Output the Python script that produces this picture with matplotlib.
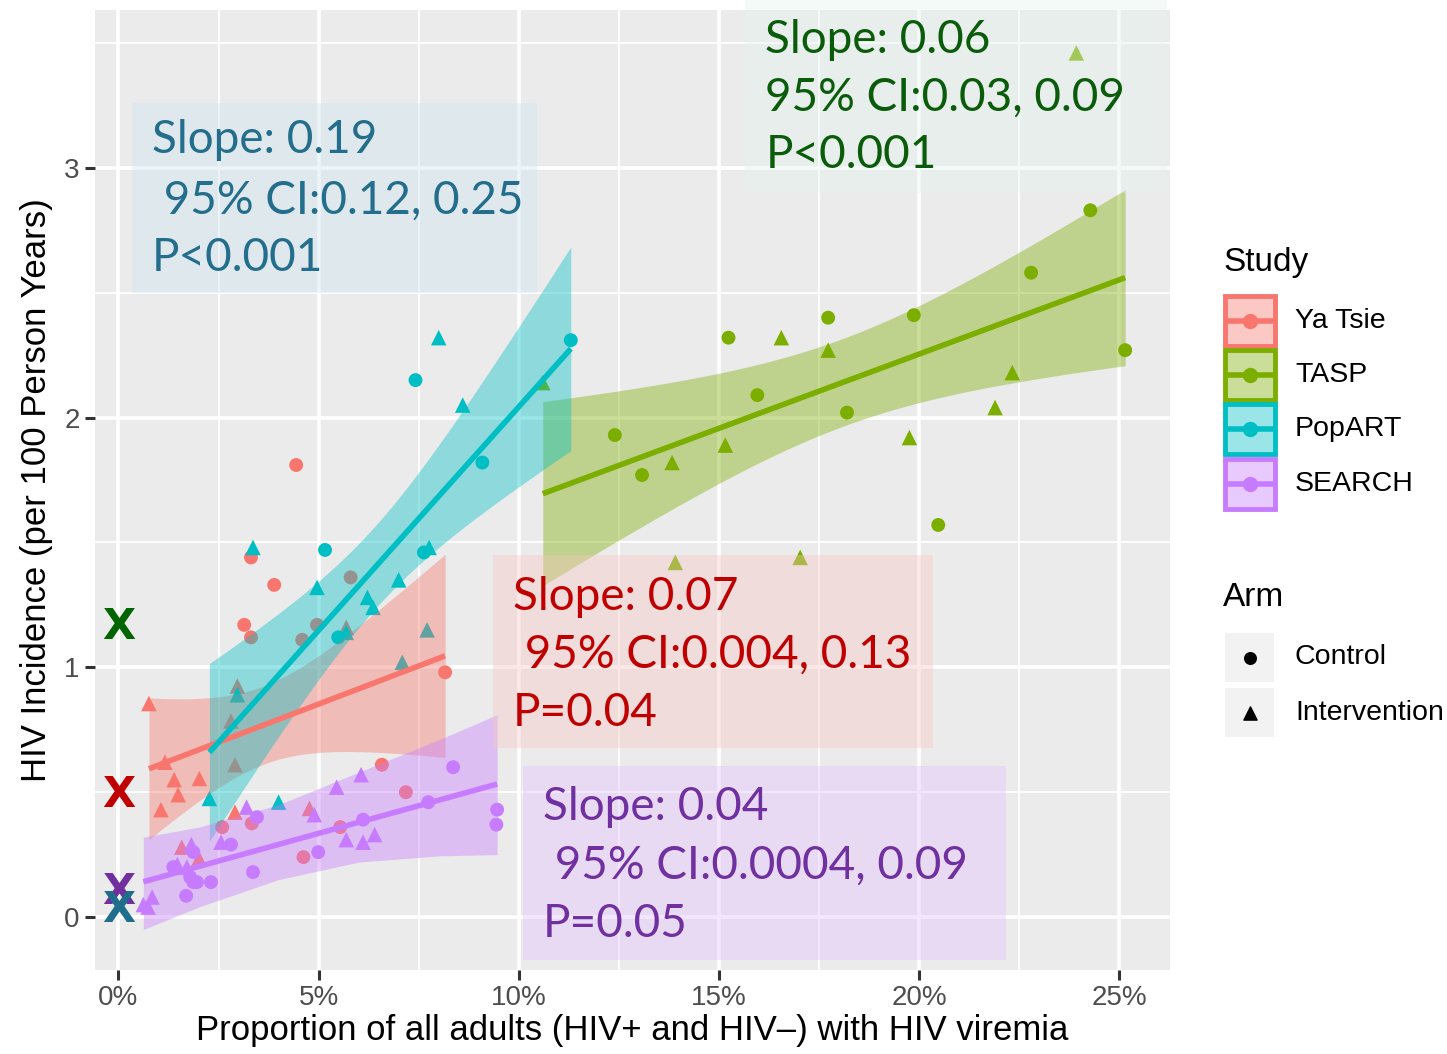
import numpy as np
import matplotlib.pyplot as plt
from matplotlib.patches import Rectangle

# ---- data (x = % of adults with viremia, y = incidence) ----
studies = ["Ya Tsie", "TASP", "PopART", "SEARCH"]
colors = ["#F8766D", "#7CAE00", "#00BFC4", "#C77CFF"]

yatsie_ctrl_x = [4.44, 3.31, 3.89, 3.14, 3.31, 5.80, 4.96, 4.59, 8.16, 6.58, 7.18, 5.54, 4.62, 2.59, 3.33]
yatsie_ctrl_y = [1.81, 1.44, 1.33, 1.17, 1.12, 1.36, 1.17, 1.11, 0.98, 0.61, 0.50, 0.36, 0.24, 0.36, 0.375]
yatsie_int_x = [0.76, 5.69, 2.97, 1.16, 1.39, 2.02, 1.49, 1.06, 2.91, 2.91, 1.58, 2.01, 4.77, 2.81]
yatsie_int_y = [0.855, 1.16, 0.925, 0.62, 0.55, 0.555, 0.49, 0.43, 0.61, 0.42, 0.28, 0.235, 0.435, 0.785]

tasp_ctrl_x = [15.24, 17.73, 19.87, 15.96, 18.20, 12.40, 13.08, 20.48, 25.15, 24.28, 22.80]
tasp_ctrl_y = [2.32, 2.40, 2.41, 2.09, 2.02, 1.93, 1.77, 1.57, 2.27, 2.83, 2.58]
tasp_int_x = [16.56, 17.73, 22.33, 21.90, 19.76, 15.16, 13.83, 13.91, 17.03, 10.60, 23.93]
tasp_int_y = [2.32, 2.27, 2.18, 2.04, 1.92, 1.89, 1.82, 1.42, 1.44, 2.14, 3.46]

popart_ctrl_x = [5.16, 9.09, 7.63, 5.49, 7.42, 11.30]
popart_ctrl_y = [1.47, 1.82, 1.46, 1.12, 2.15, 2.31]
popart_int_x = [3.36, 4.96, 7.76, 7.00, 6.22, 6.36, 5.69, 8.00, 8.60, 2.27, 4.00, 7.71, 7.09, 2.97]
popart_int_y = [1.48, 1.32, 1.48, 1.35, 1.28, 1.24, 1.14, 2.32, 2.05, 0.475, 0.46, 1.15, 1.02, 0.89]

search_ctrl_x = [8.36, 9.46, 9.44, 7.74, 6.11, 4.99, 3.36, 3.46, 2.81, 2.31, 1.69, 1.87, 1.79, 1.37, 1.87, 1.96]
search_ctrl_y = [0.60, 0.43, 0.37, 0.46, 0.39, 0.26, 0.18, 0.40, 0.29, 0.14, 0.085, 0.14, 0.16, 0.20, 0.26, 0.14]
search_int_x = [6.06, 5.45, 4.89, 3.20, 5.69, 6.11, 6.40, 2.56, 1.82, 1.47, 1.71, 0.84, 0.62, 0.74]
search_int_y = [0.57, 0.52, 0.41, 0.44, 0.31, 0.30, 0.33, 0.30, 0.29, 0.21, 0.20, 0.08, 0.05, 0.04]

# SEARCH confidence band as drawn in the figure (wider than a plain OLS band)
search_band_x = [0.62, 2.0, 4.0, 6.0, 8.0, 9.46]
search_band_lo = [-0.05, 0.04, 0.15, 0.22, 0.245, 0.25]
search_band_hi = [0.32, 0.36, 0.45, 0.58, 0.71, 0.81]

ctrl = [(yatsie_ctrl_x, yatsie_ctrl_y), (tasp_ctrl_x, tasp_ctrl_y),
        (popart_ctrl_x, popart_ctrl_y), (search_ctrl_x, search_ctrl_y)]
interv = [(yatsie_int_x, yatsie_int_y), (tasp_int_x, tasp_int_y),
          (popart_int_x, popart_int_y), (search_int_x, search_int_y)]

# slope annotations
notes = {
    "PopART": ["Slope: 0.19", " 95% CI:0.12, 0.25", "P<0.001"],
    "TASP": ["Slope: 0.06", "95% CI:0.03, 0.09", "P<0.001"],
    "Ya Tsie": ["Slope: 0.07", " 95% CI:0.004, 0.13", "P=0.04"],
    "SEARCH": ["Slope: 0.04", " 95% CI:0.0004, 0.09", "P=0.05"],
}
# counterfactual marks at x = 0
xmark_y = [1.16, 0.49, 0.10, 0.03]
xmark_colors = ["#006400", "#C00000", "#7030A0", "#1F6E8C"]


def t975(df):
    z = 1.959964
    return z + (z**3 + z) / (4 * df) + (5 * z**5 + 16 * z**3 + 3 * z) / (96 * df**2)


def lm_band(x, y, n=80):
    x = np.asarray(x, float)
    y = np.asarray(y, float)
    b, a = np.polyfit(x, y, 1)
    res = y - (a + b * x)
    df = len(x) - 2
    s = np.sqrt((res**2).sum() / df)
    xs = np.linspace(x.min(), x.max(), n)
    se = s * np.sqrt(1 / len(x) + (xs - x.mean())**2 / ((x - x.mean())**2).sum())
    fit = a + b * xs
    t = t975(df)
    return xs, fit, fit - t * se, fit + t * se


fig = plt.figure(figsize=(14.47, 10.54), dpi=100)
W, H = 1447, 1054
ax = fig.add_axes([95 / W, 1 - 970 / H, (1170 - 95) / W, (970 - 10) / H])
ax.set_facecolor("#EBEBEB")
ax.set_xlim(-0.587, 26.27)
ax.set_ylim(-0.212, 3.632)

ax.set_xticks([0, 5, 10, 15, 20, 25])
ax.set_xticklabels(["0%", "5%", "10%", "15%", "20%", "25%"])
ax.set_xticks([2.5, 7.5, 12.5, 17.5, 22.5], minor=True)
ax.set_yticks([0, 1, 2, 3])
ax.set_yticks([0.5, 1.5, 2.5, 3.5], minor=True)
ax.grid(which="major", color="white", lw=2.6, zorder=0)
ax.grid(which="minor", color="white", lw=1.3, zorder=0)
ax.set_axisbelow(True)
for sp in ax.spines.values():
    sp.set_visible(False)
ax.tick_params(which="major", length=7, width=2.2, color="#333333", labelcolor="#4D4D4D",
               labelsize=20, pad=4)
ax.tick_params(which="minor", length=0)
for lab in ax.get_xticklabels() + ax.get_yticklabels():
    lab.set_family("Liberation Sans")

ax.set_xlabel("Proportion of all adults (HIV+ and HIV\u2013) with HIV viremia",
              family="Liberation Sans", fontsize=25, labelpad=2)
ax.set_ylabel("HIV Incidence (per 100 Person Years)", family="Liberation Sans",
              fontsize=25, labelpad=8)

# points
for (cx, cy), (ix, iy), c in zip(ctrl, interv, colors):
    ax.scatter(cx, cy, s=100, marker="o", color=c, edgecolors="none", zorder=2)
    ax.scatter(ix, iy, s=125, marker="^", color=c, edgecolors="none", zorder=2)

# linear fits with 95% bands
for name, (cx, cy), (ix, iy), c in zip(studies, ctrl, interv, colors):
    xs, fit, lo, hi = lm_band(list(cx) + list(ix), list(cy) + list(iy))
    if name == "SEARCH":
        ax.fill_between(search_band_x, search_band_lo, search_band_hi, color=c, alpha=0.4,
                        lw=0, zorder=3)
    else:
        ax.fill_between(xs, lo, hi, color=c, alpha=0.4, lw=0, zorder=3)
    ax.plot(xs, fit, color=c, lw=4, zorder=4, solid_capstyle="butt")

# annotation boxes
boxes = {
    "PopART": dict(x0=0.34, x1=10.46, y0=2.50, y1=3.26, tx=0.84, ty=[3.11, 2.87, 2.64],
                   fc="#CEE5F1", tc="#236E8C"),
    "TASP": dict(x0=15.65, x1=26.2, y0=2.90, y1=3.672, tx=16.16, ty=[3.51, 3.28, 3.05],
                 fc="#E2F4EE", tc="#0A5C0A"),
    "Ya Tsie": dict(x0=9.36, x1=20.35, y0=0.677, y1=1.45, tx=9.86, ty=[1.28, 1.05, 0.817],
                    fc="#F9C6C0", tc="#C00000"),
    "SEARCH": dict(x0=10.11, x1=22.18, y0=-0.172, y1=0.605, tx=10.61, ty=[0.44, 0.204, -0.028],
                   fc="#E2C0FF", tc="#7030A0"),
}
for name, b in boxes.items():
    ax.add_patch(Rectangle((b["x0"], b["y0"]), b["x1"] - b["x0"], b["y1"] - b["y0"],
                           facecolor=b["fc"], alpha=0.38, lw=0, zorder=5, clip_on=False))
    for line, yy in zip(notes[name], b["ty"]):
        ax.text(b["tx"], yy, line, color=b["tc"], fontsize=33, family="Lato",
                va="center", ha="left", zorder=6)

for yy, c in zip(xmark_y, xmark_colors):
    ax.text(0, yy, "X", color=c, fontsize=31, family="DejaVu Sans", weight="bold",
            ha="center", va="center", zorder=7)

# legends (drawn in figure pixel space)
lg = fig.add_axes([0, 0, 1, 1])
lg.set_xlim(0, W)
lg.set_ylim(H, 0)
lg.axis("off")
lg.text(1223, 262, "Study", fontsize=24, family="Liberation Sans", va="center", ha="left")
key_top = [294, 348, 402, 457]
for name, c, top in zip(studies, colors, key_top):
    lg.add_patch(Rectangle((1225, top + 2), 50, 50, facecolor=c, alpha=0.4, lw=0))
    lg.add_patch(Rectangle((1225, top + 2), 50, 50, facecolor="none", edgecolor=c, lw=3.5))
    lg.plot([1226, 1274], [top + 27, top + 27], color=c, lw=4, solid_capstyle="butt")
    lg.scatter([1250], [top + 27], s=100, color=c, zorder=3)
    lg.text(1295, top + 27, name, fontsize=20.5, family="Liberation Sans", va="center", ha="left")

lg.text(1223, 598, "Arm", fontsize=24, family="Liberation Sans", va="center", ha="left")
for top, m, lab, sz in [(633, "o", "Control", 70), (688, "^", "Intervention", 90)]:
    lg.add_patch(Rectangle((1225, top), 49, 49, facecolor="#F2F2F2", lw=0))
    lg.scatter([1249.5], [top + 24.5], s=sz, marker=m, color="black", zorder=3)
    lg.text(1295, top + 24.5, lab, fontsize=20.5, family="Liberation Sans", va="center", ha="left")

fig.savefig("out.png", dpi=100)
